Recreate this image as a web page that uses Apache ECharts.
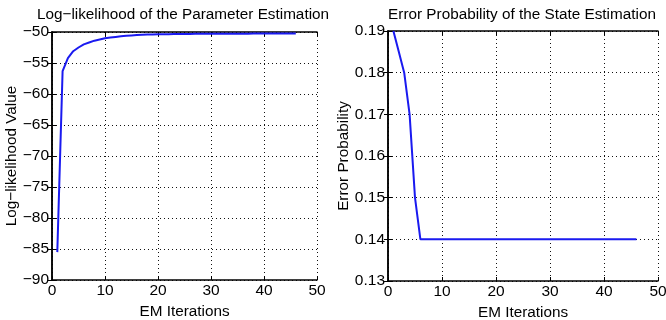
<!DOCTYPE html>
<html>
<head>
<meta charset="utf-8">
<script src="https://cdn.jsdelivr.net/npm/echarts@6/dist/echarts.min.js"></script>
<style>
html,body{margin:0;padding:0;background:#fff;}
#main{width:666px;height:320px;}
</style>
</head>
<body>
<div id="main"></div>
<script>
const iterations = [1,2,3,4,5,6,7,8,9,10,11,12,13,14,15,16,17,18,19,20,21,22,23,24,25,26,27,28,29,30,31,32,33,34,35,36,37,38,39,40,41,42,43,44,45,46];
const logLikelihood = [-85.5,-56.3,-54.2,-53.1,-52.5,-52.0,-51.7,-51.4,-51.2,-51.0,-50.9,-50.8,-50.7,-50.6,-50.55,-50.5,-50.45,-50.42,-50.4,-50.38,-50.36,-50.35,-50.34,-50.33,-50.32,-50.31,-50.3,-50.3,-50.29,-50.29,-50.28,-50.28,-50.28,-50.27,-50.27,-50.27,-50.27,-50.26,-50.26,-50.26,-50.26,-50.26,-50.25,-50.25,-50.25,-50.25];
const errorProbability = [0.19,0.185,0.18,0.17,0.15,0.14,0.14,0.14,0.14,0.14,0.14,0.14,0.14,0.14,0.14,0.14,0.14,0.14,0.14,0.14,0.14,0.14,0.14,0.14,0.14,0.14,0.14,0.14,0.14,0.14,0.14,0.14,0.14,0.14,0.14,0.14,0.14,0.14,0.14,0.14,0.14,0.14,0.14,0.14,0.14,0.14];
const titles = ['Log\u2212likelihood of the Parameter Estimation','Error Probability of the State Estimation'];
const xName = 'EM Iterations';
const yNames = ['Log\u2212likelihood Value','Error Probability'];

const FONT = 'Liberation Sans, Arial, sans-serif';
const TICK_FS = 15.5;
const NAME_FS = 15.3;
const chart = echarts.init(document.getElementById('main'));

function xAxes(gi){
  return [{
    type:'value', gridIndex:gi, min:0, max:50, interval:10, position:'bottom',
    name:xName, nameLocation:'middle', nameGap:19,
    nameTextStyle:{color:'#000', fontSize:NAME_FS, fontFamily:FONT},
    axisLine:{lineStyle:{color:'#000', width:1.5}},
    axisTick:{inside:true, length:4, lineStyle:{color:'#000'}},
    axisLabel:{color:'#000', fontSize:TICK_FS, fontFamily:FONT, margin:3},
    splitLine:{show:true, lineStyle:{color:'#111', type:[1,3], width:1}}
  },{
    type:'value', gridIndex:gi, min:0, max:50, interval:10, position:'top',
    axisLine:{lineStyle:{color:'#000', width:1.5}},
    axisTick:{inside:true, length:4, lineStyle:{color:'#000'}},
    axisLabel:{show:false}, splitLine:{show:false}
  }];
}
function yAxes(gi, min, max, interval, fmt, nameGap){
  return [{
    type:'value', gridIndex:gi, min:min, max:max, interval:interval, position:'left',
    name:yNames[gi], nameLocation:'middle', nameGap:nameGap, nameRotate:90,
    nameTextStyle:{color:'#000', fontSize:NAME_FS, fontFamily:FONT},
    axisLine:{show:true, lineStyle:{color:'#000', width:1.5}},
    axisTick:{show:true, inside:true, length:4, lineStyle:{color:'#000'}},
    axisLabel:{color:'#000', fontSize:TICK_FS, fontFamily:FONT, margin:3, formatter:fmt},
    splitLine:{show:true, lineStyle:{color:'#111', type:[1,3], width:1}}
  },{
    type:'value', gridIndex:gi, min:min, max:max, interval:interval, position:'right',
    axisLine:{show:true, lineStyle:{color:'#000', width:1.5}},
    axisTick:{show:true, inside:true, length:4, lineStyle:{color:'#000'}},
    axisLabel:{show:false}, splitLine:{show:false}
  }];
}

const option = {
  backgroundColor:'#fff',
  animation:false,
  title:[
    {text:titles[0], left:178, top:2, textAlign:'center', textStyle:{fontSize:NAME_FS, fontWeight:'normal', color:'#000', fontFamily:FONT}},
    {text:titles[1], left:517, top:2, textAlign:'center', textStyle:{fontSize:NAME_FS, fontWeight:'normal', color:'#000', fontFamily:FONT}}
  ],
  grid:[
    {left:52, right:349, top:32, bottom:40, containLabel:false, outerBoundsMode:'none'},
    {left:388, right:8, top:31, bottom:39, containLabel:false, outerBoundsMode:'none'}
  ],
  xAxis:[...xAxes(0), ...xAxes(1)],
  yAxis:[
    ...yAxes(0, -90, -50, 5, v => String(v).replace('-', '\u2212'), 29),
    ...yAxes(1, 0.13, 0.19, 0.01, v => v.toFixed(2), 36)
  ],
  series:[
    {type:'line', xAxisIndex:0, yAxisIndex:0, showSymbol:false,
     data:iterations.map((x,i)=>[x, logLikelihood[i]]),
     lineStyle:{color:'#1a1af0', width:2}},
    {type:'line', xAxisIndex:2, yAxisIndex:2, showSymbol:false,
     data:iterations.map((x,i)=>[x, errorProbability[i]]),
     lineStyle:{color:'#1a1af0', width:2}}
  ]
};
chart.setOption(option);
</script>
</body>
</html>
